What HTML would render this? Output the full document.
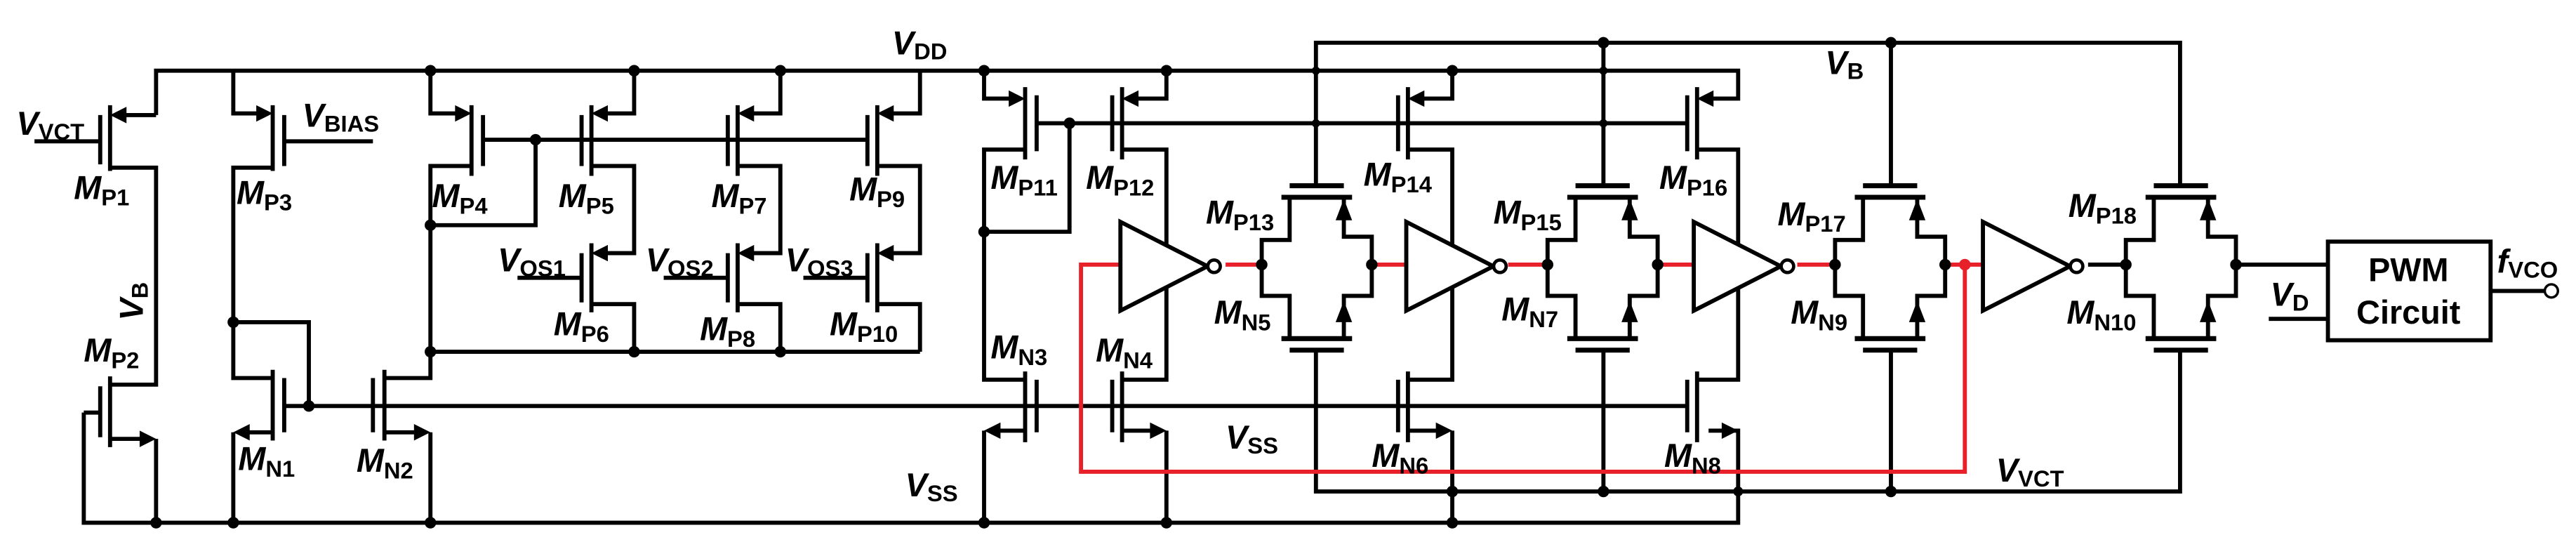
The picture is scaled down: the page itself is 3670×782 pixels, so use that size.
<!DOCTYPE html>
<html><head><meta charset="utf-8"><style>
html,body{margin:0;padding:0;background:#fff;}
svg{display:block;}
text{font-family:"Liberation Sans",Arial,sans-serif;font-weight:bold;font-size:20px;fill:#000;}
.i{font-style:italic;}
.s{font-size:14px;font-style:normal;}
</style></head><body>
<svg width="3670" height="782" viewBox="0 0 1568 334" preserveAspectRatio="none" xmlns="http://www.w3.org/2000/svg">
<defs>
<g id="tg">
 <path d="M0 0 V-15 H17 V-41 M0 0 V19 H17 V45 M67 0 V-17 H50 V-41 M67 0 V19 H50 V45" fill="none" stroke="#000" stroke-width="2.5"/>
 <path d="M12 -41 H55 M17 -48 H50 M12 45 H55 M17 52 H50" stroke="#000" stroke-width="3"/>
 <polygon points="50,-40 45,-27 55,-27"/>
 <polygon points="50,22 45,35 55,35"/>
 <circle cx="0" cy="0" r="3.5"/><circle cx="67" cy="0" r="3.5"/>
</g>
<g id="inv">
 <polygon points="0,-27 0,27 53,0" fill="#fff" stroke="#000" stroke-width="2.5"/>
 <circle cx="57" cy="0" r="3.8" fill="#fff" stroke="#000" stroke-width="2"/>
</g>
<g id="pst">
 <path d="M386 43 V69 H366 M360 64 V107 M354 70 V101 M360 101 H386 V154 H366 M360 148 V190 M354 154 V184 M315 169 H354 M360 185 H386 V214" fill="none" stroke="#000" stroke-width="2.5"/>
 <polygon points="360,69 370,64 370,74"/>
 <polygon points="360,154 370,149 370,159"/>
</g>
</defs>
<g fill="none" stroke="#000" stroke-width="2.5">
 <path d="M95 70 V43 H1058 V60 H1040"/>
 <path d="M51 251 H61 M51 251 V318 H1058 V262 H1040"/>
 <path d="M801 113 V26 H1327 V113 M976 26 V113 M1151 26 V113"/>
 <path d="M801 213 V299 H1327 V213 M976 213 V299 M1151 213 V299"/>
 <path d="M95 70 H72 M67 64 V104 M61 70 V100 M21 86 H61 M67 102 H95 V234 H67 M67 229 V272 M61 235 V266 M67 267 H90 M95 267 V318"/>
 <path d="M142 43 V69 H160 M166 64 V104 M173 70 V101 M173 86 H227 M166 102 H142 V230 H166 M166 225 V268 M173 230 V263 M166 263 H148 M142 263 V318 M142 196 H188 V247 M173 247 H1026"/>
 <path d="M227 230 V263 M234 225 V268 M234 230 H262 V214 M234 263 H256 M262 263 V318"/>
 <path d="M262 43 V69 H281 M287 64 V107 M294 70 V101 M287 101 H262 V214 M262 137 H326 V85 M294 85 H527 M262 214 H560"/>
 <path d="M599 43 V60 H618 M624 53 V97 M631 58 V92 M631 75 H1026 M624 91 H599 V231 H624 M624 226 V269 M631 231 V263 M624 262 H605 M599 262 V318 M651 75 V141 H599"/>
 <path d="M710 43 V60 H689 M683 53 V97 M677 58 V92 M683 91 H710 V231 H683 M683 226 V269 M677 231 V263 M683 262 H704 M710 262 V318"/>
 <path d="M884 43 V60 H863 M857 53 V97 M851 58 V92 M857 91 H884 V231 H857 M857 226 V269 M851 231 V263 M857 262 H878 M884 262 V318"/>
 <path d="M1033 53 V97 M1027 58 V92 M1033 91 H1058 V231 H1033 M1033 226 V269 M1027 231 V263"/>
 <path d="M1360 161 H1417 M1271 161 H1294 M1381 194 H1417 M1516 177 H1549"/>
 <rect x="1417" y="147" width="99" height="60"/>
</g>
<g>
 <polygon points="67,70 77,65 77,75"/><polygon points="95,267 85,262 85,272"/>
 <polygon points="166,69 156,64 156,74"/><polygon points="142,263 152,258 152,268"/>
 <polygon points="262,263 252,258 252,268"/><polygon points="287,69 277,64 277,74"/>
 <polygon points="624,60 614,55 614,65"/><polygon points="599,262 609,257 609,267"/>
 <polygon points="683,60 693,55 693,65"/><polygon points="710,262 700,257 700,267"/>
 <polygon points="857,60 867,55 867,65"/><polygon points="884,262 874,257 874,267"/>
 <polygon points="1033,60 1043,55 1043,65"/><polygon points="1058,262 1048,257 1048,267"/>
</g>
<use href="#pst" x="0" y="0"/><use href="#pst" x="89" y="0"/><use href="#pst" x="174" y="0"/>
<g fill="none" stroke="#e8202a" stroke-width="2.5">
 <path d="M682 161 H658 V287 H1196 V161"/>
 <path d="M746 161 H768 M835 161 H856 M918 161 H942 M1008 161 H1031 M1094 161 H1117 M1183 161 H1207"/>
</g>
<circle cx="1196" cy="161" r="3.5" fill="#e8202a"/>
<use href="#tg" x="768" y="161"/><use href="#tg" x="942" y="161"/><use href="#tg" x="1117" y="161"/><use href="#tg" x="1294" y="161"/>
<use href="#inv" x="682" y="162"/><use href="#inv" x="856" y="162"/><use href="#inv" x="1031" y="162"/><use href="#inv" x="1207" y="162"/>
<circle cx="1553" cy="177" r="4" fill="#fff" stroke="#000" stroke-width="1.5"/>
<g>
 <circle cx="262" cy="43" r="3.5"/><circle cx="386" cy="43" r="3.5"/><circle cx="475" cy="43" r="3.5"/>
 <circle cx="599" cy="43" r="3.5"/><circle cx="710" cy="43" r="3.5"/><circle cx="801" cy="43" r="2.5"/><circle cx="884" cy="43" r="3.5"/><circle cx="976" cy="43" r="2.5"/>
 <circle cx="976" cy="26" r="3.5"/><circle cx="1151" cy="26" r="3.5"/>
 <circle cx="326" cy="85" r="3.5"/><circle cx="262" cy="137" r="3.5"/><circle cx="262" cy="214" r="3.5"/><circle cx="386" cy="214" r="3.5"/><circle cx="475" cy="214" r="3.5"/>
 <circle cx="142" cy="196" r="3.5"/><circle cx="188" cy="247" r="3.5"/>
 <circle cx="651" cy="75" r="3.5"/><circle cx="599" cy="141" r="3.5"/><circle cx="801" cy="75" r="2.5"/><circle cx="976" cy="75" r="2.5"/>
 <circle cx="95" cy="318" r="3.5"/><circle cx="142" cy="318" r="3.5"/><circle cx="262" cy="318" r="3.5"/><circle cx="599" cy="318" r="3.5"/><circle cx="710" cy="318" r="3.5"/><circle cx="884" cy="318" r="3.5"/>
 <circle cx="884" cy="299" r="3.5"/><circle cx="976" cy="299" r="3.5"/><circle cx="1058" cy="299" r="3"/><circle cx="1151" cy="299" r="3.5"/>
</g>
<text x="10" y="82"><tspan class="i">V</tspan><tspan class="s" dy="3">VCT</tspan></text>
<text x="45" y="121"><tspan class="i">M</tspan><tspan class="s" dy="4">P1</tspan></text>
<text x="144" y="124"><tspan class="i">M</tspan><tspan class="s" dy="4">P3</tspan></text>
<text x="184" y="77"><tspan class="i">V</tspan><tspan class="s" dy="3">BIAS</tspan></text>
<text transform="translate(87,195) rotate(-90)"><tspan class="i">V</tspan><tspan class="s" dy="3">B</tspan></text>
<text x="51" y="220"><tspan class="i">M</tspan><tspan class="s" dy="4">P2</tspan></text>
<text x="263" y="126"><tspan class="i">M</tspan><tspan class="s" dy="4">P4</tspan></text>
<text x="340" y="126"><tspan class="i">M</tspan><tspan class="s" dy="4">P5</tspan></text>
<text x="433" y="126"><tspan class="i">M</tspan><tspan class="s" dy="4">P7</tspan></text>
<text x="517" y="122"><tspan class="i">M</tspan><tspan class="s" dy="4">P9</tspan></text>
<text x="303" y="165"><tspan class="i">V</tspan><tspan class="s" dy="3">OS1</tspan></text>
<text x="393" y="165"><tspan class="i">V</tspan><tspan class="s" dy="3">OS2</tspan></text>
<text x="478" y="165"><tspan class="i">V</tspan><tspan class="s" dy="3">OS3</tspan></text>
<text x="337" y="204"><tspan class="i">M</tspan><tspan class="s" dy="4">P6</tspan></text>
<text x="426" y="207"><tspan class="i">M</tspan><tspan class="s" dy="4">P8</tspan></text>
<text x="505" y="204"><tspan class="i">M</tspan><tspan class="s" dy="4">P10</tspan></text>
<text x="145" y="286"><tspan class="i">M</tspan><tspan class="s" dy="4">N1</tspan></text>
<text x="217" y="287"><tspan class="i">M</tspan><tspan class="s" dy="4">N2</tspan></text>
<text x="543" y="33"><tspan class="i">V</tspan><tspan class="s" dy="3">DD</tspan></text>
<text x="603" y="115"><tspan class="i">M</tspan><tspan class="s" dy="4">P11</tspan></text>
<text x="661" y="115"><tspan class="i">M</tspan><tspan class="s" dy="4">P12</tspan></text>
<text x="734" y="136"><tspan class="i">M</tspan><tspan class="s" dy="4">P13</tspan></text>
<text x="830" y="113"><tspan class="i">M</tspan><tspan class="s" dy="4">P14</tspan></text>
<text x="909" y="136"><tspan class="i">M</tspan><tspan class="s" dy="4">P15</tspan></text>
<text x="1010" y="115"><tspan class="i">M</tspan><tspan class="s" dy="4">P16</tspan></text>
<text x="739" y="197"><tspan class="i">M</tspan><tspan class="s" dy="4">N5</tspan></text>
<text x="914" y="195"><tspan class="i">M</tspan><tspan class="s" dy="4">N7</tspan></text>
<text x="603" y="218"><tspan class="i">M</tspan><tspan class="s" dy="4">N3</tspan></text>
<text x="667" y="220"><tspan class="i">M</tspan><tspan class="s" dy="4">N4</tspan></text>
<text x="746" y="273"><tspan class="i">V</tspan><tspan class="s" dy="3">SS</tspan></text>
<text x="551" y="302"><tspan class="i">V</tspan><tspan class="s" dy="3">SS</tspan></text>
<text x="835" y="284"><tspan class="i">M</tspan><tspan class="s" dy="4">N6</tspan></text>
<text x="1013" y="284"><tspan class="i">M</tspan><tspan class="s" dy="4">N8</tspan></text>
<text x="1082" y="137"><tspan class="i">M</tspan><tspan class="s" dy="4">P17</tspan></text>
<text x="1090" y="197"><tspan class="i">M</tspan><tspan class="s" dy="4">N9</tspan></text>
<text x="1259" y="132"><tspan class="i">M</tspan><tspan class="s" dy="4">P18</tspan></text>
<text x="1258" y="197"><tspan class="i">M</tspan><tspan class="s" dy="4">N10</tspan></text>
<text x="1111" y="45"><tspan class="i">V</tspan><tspan class="s" dy="3">B</tspan></text>
<text x="1215" y="293"><tspan class="i">V</tspan><tspan class="s" dy="3">VCT</tspan></text>
<text x="1382" y="186"><tspan class="i">V</tspan><tspan class="s" dy="3">D</tspan></text>
<text x="1520" y="166"><tspan class="i">f</tspan><tspan class="s" dy="3">VCO</tspan></text>
<text x="1466" y="171" text-anchor="middle">PWM</text>
<text x="1466" y="197" text-anchor="middle">Circuit</text>
</svg>
</body></html>
